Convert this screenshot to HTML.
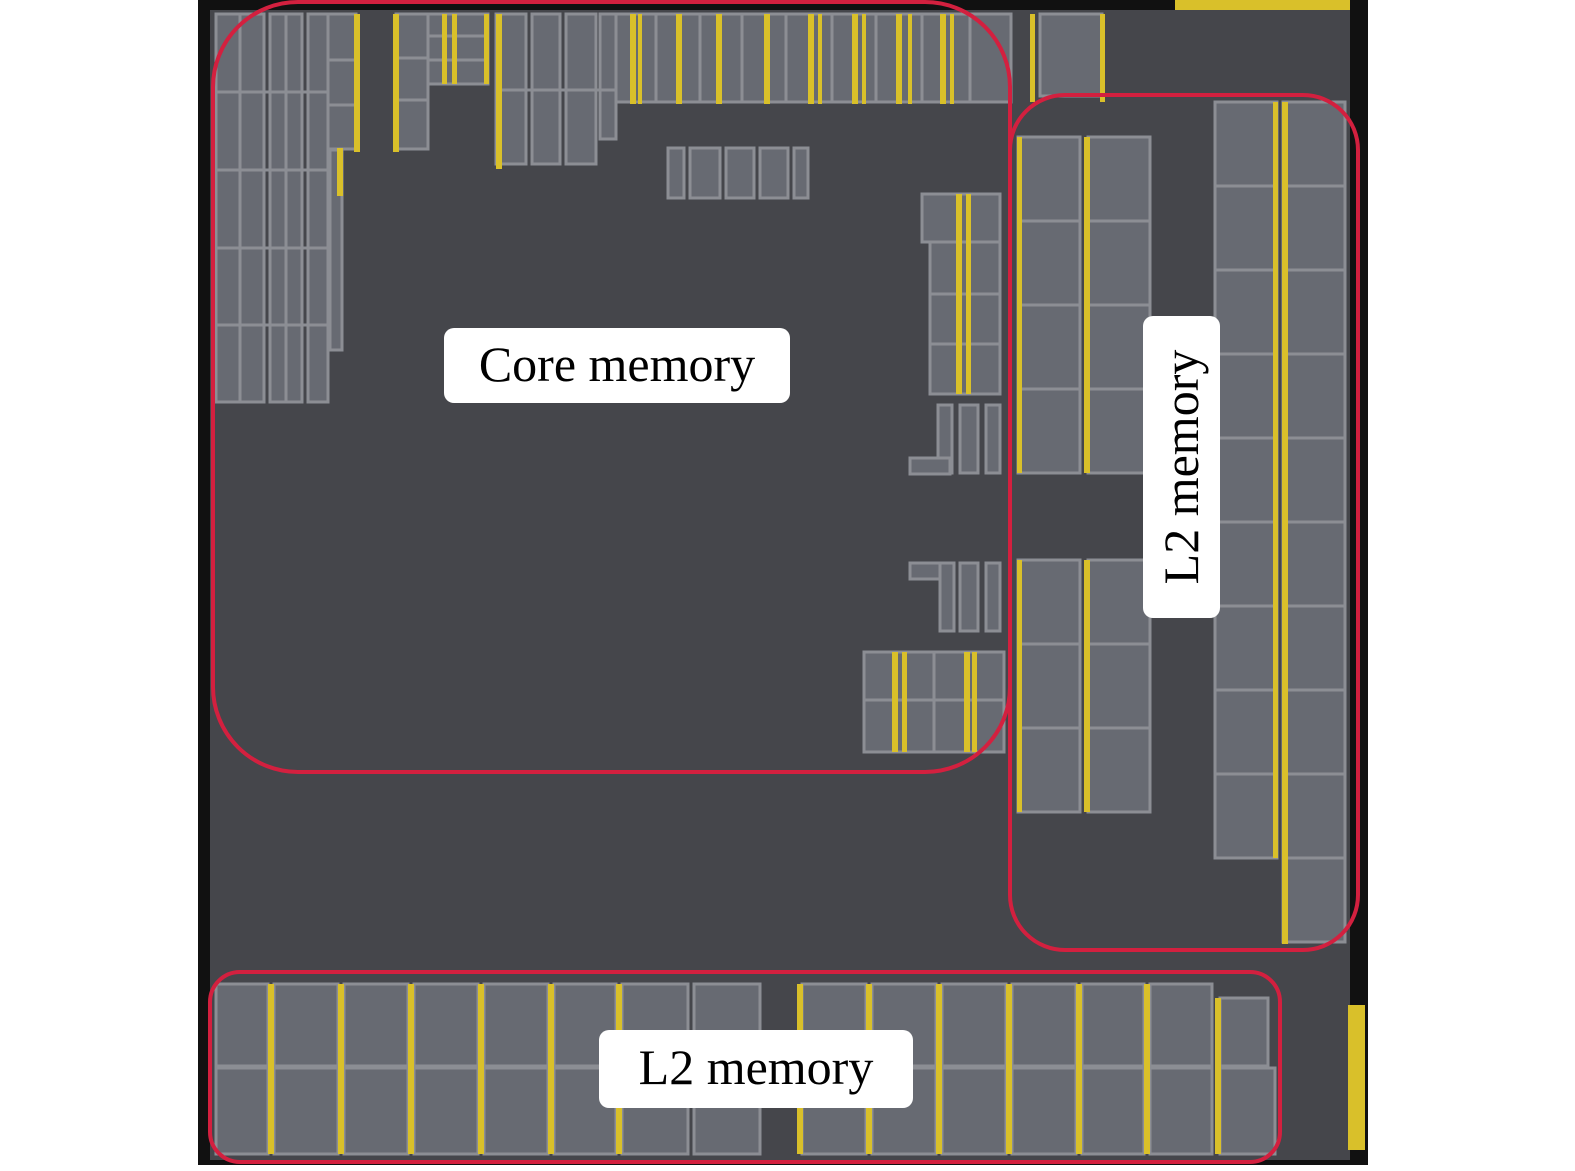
<!DOCTYPE html>
<html><head><meta charset="utf-8"><style>
html,body{margin:0;padding:0;background:#fff;}
svg{display:block}
text{font-family:"Liberation Serif",serif;fill:#000}
</style></head><body>
<svg width="1575" height="1171" viewBox="0 0 1575 1171" xmlns="http://www.w3.org/2000/svg">
<rect x="0" y="0" width="1575" height="1171" fill="#fff"/>
<rect x="198" y="0" width="1170" height="1165" fill="#111"/>
<rect x="210" y="10" width="1140" height="1150" fill="#45464b"/>
<rect x="1175" y="0" width="175" height="10" fill="#d9c02a"/>
<rect x="1348" y="1005" width="17" height="145" fill="#d9c02a"/>
<g fill="#676a72" stroke="#8c8e94" stroke-width="3">
<rect x="216" y="14" width="48" height="388"/>
<rect x="270" y="14" width="32" height="388"/>
<rect x="308" y="14" width="20" height="388"/>
<rect x="328" y="14" width="28" height="135"/>
<rect x="330" y="150" width="12" height="200"/>
<rect x="396" y="14" width="32" height="135"/>
<rect x="428" y="14" width="60" height="70"/>
<rect x="496" y="14" width="30" height="150"/><rect x="532" y="14" width="28" height="150"/><rect x="566" y="14" width="30" height="150"/><rect x="600" y="14" width="16" height="125"/>
<rect x="616" y="14" width="395" height="88"/>
<rect x="1040" y="14" width="62" height="82"/>
<rect x="668" y="148" width="16" height="50"/><rect x="690" y="148" width="30" height="50"/><rect x="726" y="148" width="28" height="50"/><rect x="760" y="148" width="28" height="50"/><rect x="794" y="148" width="14" height="50"/>
<rect x="922" y="194" width="78" height="48"/>
<rect x="930" y="242" width="70" height="152"/>
<rect x="938" y="405" width="14" height="68"/><rect x="960" y="405" width="18" height="68"/><rect x="986" y="405" width="14" height="68"/>
<rect x="910" y="458" width="40" height="16"/>
<rect x="910" y="563" width="40" height="16"/>
<rect x="940" y="563" width="14" height="68"/><rect x="960" y="563" width="18" height="68"/><rect x="986" y="563" width="14" height="68"/>
<rect x="864" y="652" width="140" height="100"/>
<rect x="1018" y="137" width="62" height="84"/><rect x="1018" y="221" width="62" height="84"/><rect x="1018" y="305" width="62" height="84"/><rect x="1018" y="389" width="62" height="84"/>
<rect x="1088" y="137" width="62" height="84"/><rect x="1088" y="221" width="62" height="84"/><rect x="1088" y="305" width="62" height="84"/><rect x="1088" y="389" width="62" height="84"/>
<rect x="1018" y="560" width="62" height="84"/><rect x="1018" y="644" width="62" height="84"/><rect x="1018" y="728" width="62" height="84"/>
<rect x="1088" y="560" width="62" height="84"/><rect x="1088" y="644" width="62" height="84"/><rect x="1088" y="728" width="62" height="84"/>
<rect x="1215" y="102" width="62" height="84"/><rect x="1215" y="186" width="62" height="84"/><rect x="1215" y="270" width="62" height="84"/><rect x="1215" y="354" width="62" height="84"/><rect x="1215" y="438" width="62" height="84"/><rect x="1215" y="522" width="62" height="84"/><rect x="1215" y="606" width="62" height="84"/><rect x="1215" y="690" width="62" height="84"/><rect x="1215" y="774" width="62" height="84"/>
<rect x="1283" y="102" width="62" height="84"/><rect x="1283" y="186" width="62" height="84"/><rect x="1283" y="270" width="62" height="84"/><rect x="1283" y="354" width="62" height="84"/><rect x="1283" y="438" width="62" height="84"/><rect x="1283" y="522" width="62" height="84"/><rect x="1283" y="606" width="62" height="84"/><rect x="1283" y="690" width="62" height="84"/><rect x="1283" y="774" width="62" height="84"/><rect x="1283" y="858" width="62" height="84"/>
<rect x="216" y="984" width="52" height="82"/><rect x="216" y="1068" width="52" height="86"/>
<rect x="274" y="984" width="64" height="82"/><rect x="274" y="1068" width="64" height="86"/>
<rect x="344" y="984" width="64" height="82"/><rect x="344" y="1068" width="64" height="86"/>
<rect x="414" y="984" width="64" height="82"/><rect x="414" y="1068" width="64" height="86"/>
<rect x="484" y="984" width="64" height="82"/><rect x="484" y="1068" width="64" height="86"/>
<rect x="554" y="984" width="62" height="82"/><rect x="554" y="1068" width="62" height="86"/>
<rect x="622" y="984" width="66" height="82"/><rect x="622" y="1068" width="66" height="86"/>
<rect x="694" y="984" width="66" height="82"/><rect x="694" y="1068" width="66" height="86"/>
<rect x="802" y="984" width="64" height="82"/><rect x="802" y="1068" width="64" height="86"/>
<rect x="872" y="984" width="64" height="82"/><rect x="872" y="1068" width="64" height="86"/>
<rect x="942" y="984" width="64" height="82"/><rect x="942" y="1068" width="64" height="86"/>
<rect x="1012" y="984" width="64" height="82"/><rect x="1012" y="1068" width="64" height="86"/>
<rect x="1082" y="984" width="62" height="82"/><rect x="1082" y="1068" width="62" height="86"/>
<rect x="1150" y="984" width="62" height="82"/><rect x="1150" y="1068" width="62" height="86"/>
<rect x="1220" y="998" width="48" height="68"/><rect x="1220" y="1068" width="55" height="86"/>
</g>
<g stroke="#8c8e94" stroke-width="3">
<line x1="216" y1="92" x2="328" y2="92"/><line x1="216" y1="170" x2="328" y2="170"/><line x1="216" y1="248" x2="328" y2="248"/><line x1="216" y1="325" x2="328" y2="325"/>
<line x1="240" y1="14" x2="240" y2="402"/><line x1="286" y1="14" x2="286" y2="402"/>
<line x1="328" y1="60" x2="356" y2="60"/><line x1="328" y1="105" x2="356" y2="105"/>
<line x1="396" y1="58" x2="428" y2="58"/><line x1="396" y1="100" x2="428" y2="100"/>
<line x1="428" y1="36" x2="488" y2="36"/><line x1="428" y1="60" x2="488" y2="60"/>
<line x1="496" y1="90" x2="616" y2="90"/>
<line x1="656" y1="14" x2="656" y2="102"/><line x1="700" y1="14" x2="700" y2="102"/><line x1="742" y1="14" x2="742" y2="102"/><line x1="786" y1="14" x2="786" y2="102"/><line x1="832" y1="14" x2="832" y2="102"/><line x1="876" y1="14" x2="876" y2="102"/><line x1="922" y1="14" x2="922" y2="102"/><line x1="970" y1="14" x2="970" y2="102"/>
<line x1="930" y1="294" x2="1000" y2="294"/><line x1="930" y1="344" x2="1000" y2="344"/>
<line x1="864" y1="700" x2="1004" y2="700"/><line x1="934" y1="652" x2="934" y2="752"/>
</g>
<g fill="#d9c02a">
<rect x="354" y="14" width="6" height="138"/><rect x="337" y="148" width="6" height="48"/><rect x="393" y="14" width="6" height="138"/>
<rect x="442" y="14" width="5" height="70"/><rect x="452" y="14" width="5" height="70"/><rect x="484" y="14" width="5" height="70"/><rect x="496" y="14" width="6" height="155"/>
<rect x="630" y="14" width="6" height="90"/><rect x="638" y="14" width="4" height="90"/><rect x="676" y="14" width="6" height="90"/><rect x="716" y="14" width="6" height="90"/><rect x="764" y="14" width="6" height="90"/><rect x="808" y="14" width="6" height="90"/><rect x="818" y="14" width="4" height="90"/><rect x="852" y="14" width="6" height="90"/><rect x="862" y="14" width="4" height="90"/><rect x="896" y="14" width="6" height="90"/><rect x="908" y="14" width="4" height="90"/><rect x="940" y="14" width="6" height="90"/><rect x="950" y="14" width="4" height="90"/><rect x="1030" y="14" width="5" height="88"/><rect x="1100" y="14" width="5" height="88"/>
<rect x="956" y="194" width="6" height="200"/><rect x="966" y="194" width="5" height="200"/>
<rect x="892" y="652" width="6" height="100"/><rect x="902" y="652" width="5" height="100"/><rect x="964" y="652" width="6" height="100"/><rect x="972" y="652" width="5" height="100"/>
<rect x="1017" y="137" width="5" height="336"/><rect x="1084" y="137" width="6" height="336"/>
<rect x="1017" y="560" width="5" height="252"/><rect x="1084" y="560" width="6" height="252"/>
<rect x="1273" y="102" width="5" height="756"/><rect x="1282" y="102" width="6" height="842"/>
<rect x="268" y="984" width="6" height="170"/><rect x="338" y="984" width="6" height="170"/><rect x="408" y="984" width="6" height="170"/><rect x="478" y="984" width="6" height="170"/><rect x="548" y="984" width="6" height="170"/><rect x="616" y="984" width="6" height="170"/><rect x="797" y="984" width="6" height="170"/><rect x="866" y="984" width="6" height="170"/><rect x="936" y="984" width="6" height="170"/><rect x="1006" y="984" width="6" height="170"/><rect x="1076" y="984" width="6" height="170"/><rect x="1144" y="984" width="6" height="170"/><rect x="1215" y="998" width="6" height="156"/>
</g>
<g fill="none" stroke="#d3203f" stroke-width="4">
<rect x="213" y="2" width="797" height="770" rx="85"/>
<rect x="1010" y="95" width="348" height="855" rx="55"/>
<rect x="210" y="972" width="1070" height="190" rx="30"/>
</g>
<rect x="444" y="328" width="346" height="75" rx="10" fill="#fff"/>
<text x="617" y="381" font-size="50" text-anchor="middle">Core memory</text>
<rect x="599" y="1030" width="314" height="78" rx="10" fill="#fff"/>
<text x="756" y="1084" font-size="50" text-anchor="middle">L2 memory</text>
<rect x="1143" y="316" width="77" height="302" rx="10" fill="#fff"/>
<text transform="translate(1198,467) rotate(-90)" font-size="50" text-anchor="middle">L2 memory</text>
</svg>
</body></html>
